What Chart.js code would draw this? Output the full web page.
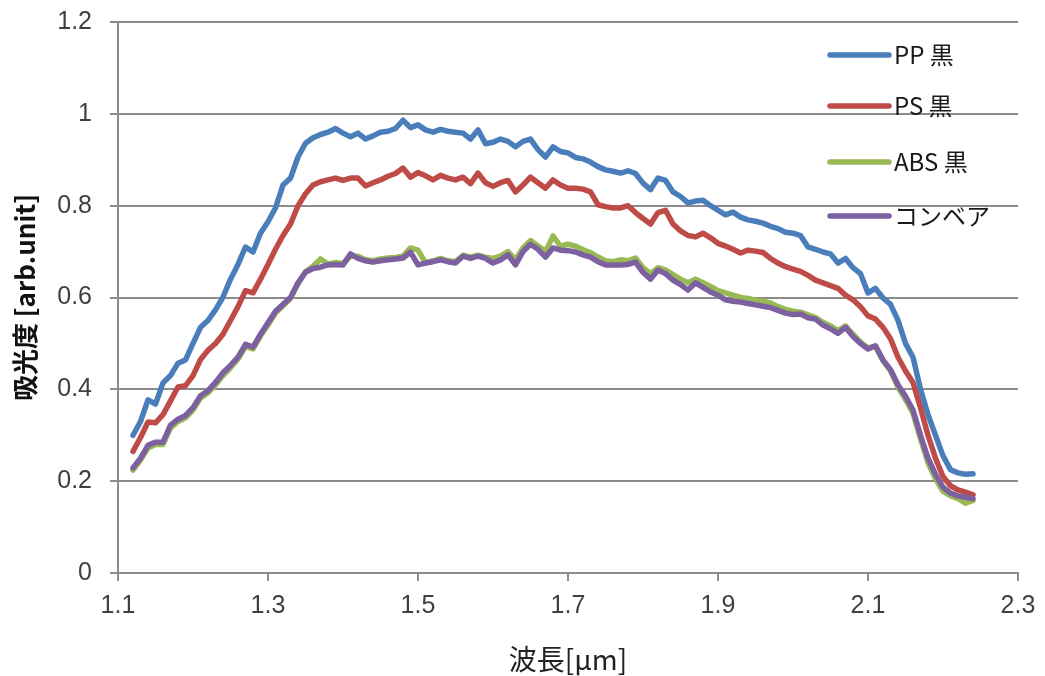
<!DOCTYPE html>
<html>
<head>
<meta charset="utf-8">
<script src="https://cdn.jsdelivr.net/npm/chart.js@4/dist/chart.umd.min.js"></script>
<style>
html,body{margin:0;padding:0;background:#fff;}
#wrap{width:1045px;height:676px;position:relative;}
</style>
</head>
<body>
<div id="wrap"><canvas id="c" width="1045" height="676"></canvas></div>
<script>
const wavelengths = [1.12,1.13,1.14,1.15,1.16,1.17,1.18,1.19,1.20,1.21,1.22,1.23,1.24,1.25,1.26,1.27,1.28,1.29,1.30,1.31,1.32,1.33,1.34,1.35,1.36,1.37,1.38,1.39,1.40,1.41,1.42,1.43,1.44,1.45,1.46,1.47,1.48,1.49,1.50,1.51,1.52,1.53,1.54,1.55,1.56,1.57,1.58,1.59,1.60,1.61,1.62,1.63,1.64,1.65,1.66,1.67,1.68,1.69,1.70,1.71,1.72,1.73,1.74,1.75,1.76,1.77,1.78,1.79,1.80,1.81,1.82,1.83,1.84,1.85,1.86,1.87,1.88,1.89,1.90,1.91,1.92,1.93,1.94,1.95,1.96,1.97,1.98,1.99,2.00,2.01,2.02,2.03,2.04,2.05,2.06,2.07,2.08,2.09,2.10,2.11,2.12,2.13,2.14,2.15,2.16,2.17,2.18,2.19,2.20,2.21,2.22,2.23,2.24];

const ppBlack = [0.30,0.33,0.377,0.368,0.414,0.43,0.457,0.464,0.50,0.535,0.55,0.573,0.601,0.64,0.672,0.71,0.699,0.74,0.765,0.795,0.845,0.86,0.906,0.936,0.948,0.955,0.96,0.968,0.958,0.95,0.958,0.945,0.952,0.96,0.962,0.968,0.986,0.97,0.976,0.965,0.96,0.966,0.962,0.96,0.958,0.945,0.965,0.935,0.938,0.945,0.94,0.928,0.94,0.945,0.922,0.906,0.928,0.918,0.915,0.905,0.902,0.895,0.885,0.878,0.875,0.871,0.876,0.87,0.849,0.835,0.86,0.855,0.83,0.82,0.806,0.81,0.812,0.80,0.79,0.78,0.786,0.775,0.769,0.766,0.762,0.755,0.75,0.742,0.74,0.735,0.71,0.705,0.699,0.695,0.675,0.685,0.665,0.652,0.61,0.62,0.599,0.585,0.55,0.50,0.47,0.40,0.345,0.30,0.255,0.225,0.218,0.215,0.216];

const psBlack = [0.265,0.295,0.329,0.327,0.345,0.375,0.405,0.408,0.43,0.465,0.485,0.50,0.52,0.55,0.58,0.615,0.61,0.64,0.672,0.705,0.735,0.76,0.80,0.826,0.845,0.852,0.856,0.86,0.855,0.86,0.86,0.843,0.85,0.856,0.864,0.87,0.882,0.862,0.872,0.865,0.856,0.866,0.86,0.856,0.862,0.848,0.871,0.85,0.842,0.85,0.855,0.83,0.845,0.862,0.85,0.838,0.856,0.845,0.838,0.838,0.836,0.83,0.802,0.798,0.795,0.795,0.80,0.785,0.772,0.76,0.785,0.79,0.76,0.745,0.735,0.732,0.74,0.73,0.718,0.712,0.705,0.697,0.703,0.701,0.698,0.685,0.675,0.667,0.662,0.657,0.648,0.638,0.632,0.626,0.62,0.605,0.595,0.58,0.56,0.553,0.535,0.51,0.47,0.44,0.415,0.36,0.30,0.25,0.21,0.19,0.181,0.176,0.17];

const absBlack = [0.224,0.246,0.272,0.28,0.28,0.316,0.33,0.338,0.355,0.381,0.392,0.41,0.43,0.447,0.466,0.493,0.488,0.516,0.54,0.566,0.582,0.598,0.63,0.656,0.668,0.684,0.673,0.676,0.674,0.69,0.69,0.682,0.68,0.684,0.686,0.687,0.69,0.708,0.703,0.676,0.68,0.685,0.68,0.678,0.692,0.688,0.692,0.688,0.685,0.69,0.70,0.682,0.708,0.724,0.712,0.70,0.734,0.712,0.716,0.712,0.704,0.698,0.688,0.68,0.678,0.682,0.68,0.686,0.665,0.652,0.665,0.66,0.65,0.64,0.632,0.64,0.632,0.624,0.615,0.61,0.605,0.60,0.598,0.594,0.592,0.588,0.58,0.574,0.57,0.568,0.562,0.556,0.546,0.538,0.528,0.538,0.52,0.503,0.49,0.494,0.462,0.44,0.405,0.378,0.348,0.292,0.24,0.205,0.178,0.168,0.162,0.152,0.158];

const conveyor = [0.229,0.25,0.278,0.285,0.285,0.322,0.335,0.343,0.36,0.386,0.397,0.415,0.436,0.452,0.47,0.498,0.492,0.52,0.545,0.57,0.585,0.60,0.632,0.655,0.663,0.666,0.671,0.672,0.671,0.695,0.685,0.68,0.677,0.68,0.682,0.684,0.686,0.699,0.671,0.675,0.678,0.682,0.678,0.675,0.69,0.685,0.69,0.685,0.675,0.682,0.693,0.671,0.70,0.716,0.705,0.688,0.708,0.703,0.702,0.699,0.693,0.688,0.678,0.671,0.671,0.671,0.672,0.677,0.655,0.64,0.66,0.652,0.638,0.628,0.616,0.632,0.622,0.612,0.605,0.595,0.592,0.59,0.587,0.584,0.581,0.578,0.572,0.566,0.563,0.564,0.556,0.553,0.54,0.532,0.522,0.535,0.515,0.50,0.488,0.495,0.464,0.443,0.41,0.385,0.355,0.30,0.25,0.215,0.187,0.174,0.168,0.165,0.162];

const seriesNames = ['PP 黒','PS 黒','ABS 黒','コンベア'];
const seriesColors = ['#4A7EBB','#BE4B48','#98B954','#7D60A0'];
const yTicks = [0,0.2,0.4,0.6,0.8,1,1.2];
const xTicks = [1.1,1.3,1.5,1.7,1.9,2.1,2.3];

const FONT = "'Liberation Sans','Noto Sans CJK JP',sans-serif";
const JFONT = "'Noto Sans CJK JP','Liberation Sans',sans-serif";
const GRID = '#8C8C8C';

function pts(ys){ return wavelengths.map((x,i)=>({x:x,y:ys[i]})); }

const allSeries = [ppBlack, psBlack, absBlack, conveyor];
const datasets = allSeries.map((ys,i)=>({
  label: seriesNames[i],
  data: pts(ys),
  borderColor: seriesColors[i],
  backgroundColor: seriesColors[i],
  borderWidth: 5.5,
  pointRadius: 0,
  tension: 0,
  borderCapStyle: 'round',
  borderJoinStyle: 'round',
  fill: false,
  order: [3,2,1,0][i]
}));

const legendPlugin = {
  id: 'inlegend',
  afterDatasetsDraw(chart){
    const ctx = chart.ctx;
    const ys = [55,106,162,216];
    ctx.save();
    seriesNames.forEach((name,i)=>{
      ctx.strokeStyle = seriesColors[i];
      ctx.lineWidth = 5.5;
      ctx.lineCap = 'round';
      ctx.beginPath();
      ctx.moveTo(830, ys[i]);
      ctx.lineTo(889, ys[i]);
      ctx.stroke();
      ctx.fillStyle = '#1a1a1a';
      ctx.font = "24px " + JFONT;
      ctx.textAlign = 'left';
      ctx.textBaseline = 'middle';
      ctx.fillText(name, 894, ys[i]);
    });
    ctx.restore();
  }
};

new Chart(document.getElementById('c'), {
  type: 'line',
  data: { datasets: datasets },
  options: {
    responsive: false,
    animation: false,
    layout: { padding: { top: 22, right: 27, left: 0, bottom: 0 } },
    plugins: { legend: { display: false }, tooltip: { enabled: false } },
    scales: {
      x: {
        type: 'linear',
        min: 1.1, max: 2.3,
        afterBuildTicks: s => { s.ticks = xTicks.map(v=>({value:v})); },
        afterFit: s => { s.height = 103; s.paddingLeft = 0; s.paddingRight = 0; },
        grid: { display: true, drawOnChartArea: false, drawTicks: true, tickLength: 8, color: GRID, lineWidth: 2 },
        border: { display: true, color: GRID, width: 2 },
        ticks: { color: '#404040', font: { size: 25, family: FONT }, padding: 10, maxRotation: 0,
                 callback: v => Number(v).toFixed(1) },
        title: { display: true, text: '波長[μm]', color: '#222', font: { size: 28, family: JFONT }, padding: { top: 2, bottom: 0 } }
      },
      y: {
        min: 0, max: 1.2,
        afterBuildTicks: s => { s.ticks = yTicks.map(v=>({value:v})); },
        afterFit: s => { s.width = 118; s.paddingTop = 0; s.paddingBottom = 0; },
        grid: { display: true, drawOnChartArea: true, drawTicks: true, tickLength: 8, color: GRID, lineWidth: 2 },
        border: { display: true, color: GRID, width: 2 },
        ticks: { color: '#404040', font: { size: 25, family: FONT }, padding: 18,
                 callback: v => String(Math.round(v*10)/10) },
        title: { display: true, text: '吸光度 [arb.unit]', color: '#111', font: { size: 26, family: JFONT, weight: 'bold' }, padding: { top: 10, bottom: 0 } }
      }
    }
  },
  plugins: [legendPlugin]
});
</script>
</body>
</html>
